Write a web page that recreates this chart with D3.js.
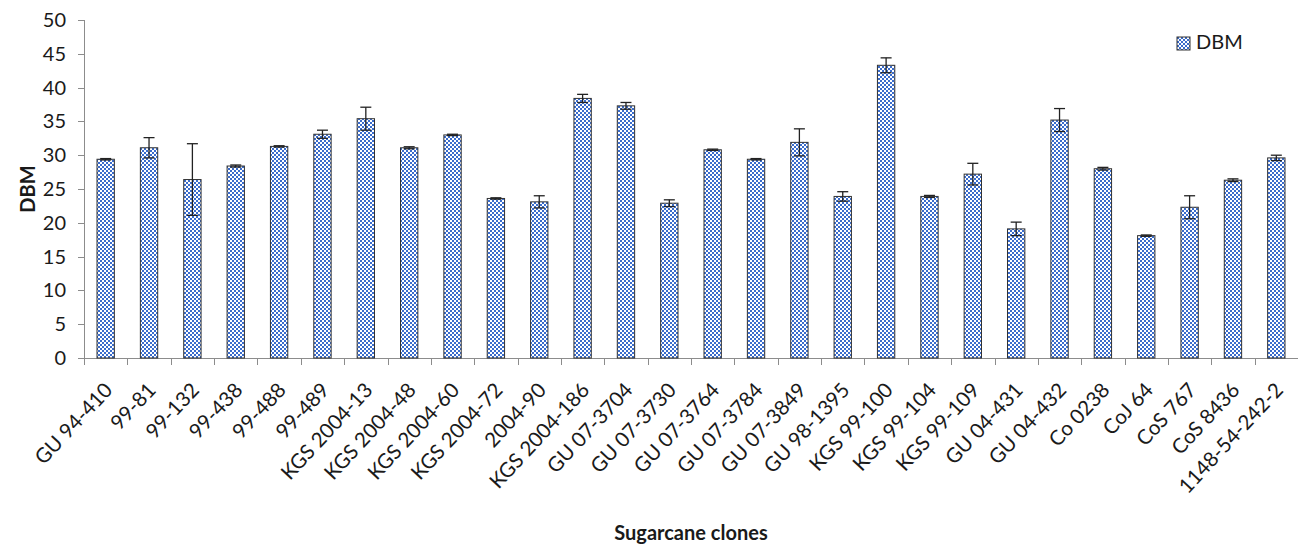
<!DOCTYPE html>
<html>
<head>
  <title>DBM of sugarcane clones</title>
  <script src="https://d3js.org/d3.v7.min.js"></script>
  <style>
    body { margin: 0; background: #fff; }
    text { font-family: Lato, "Open Sans", sans-serif; fill: #1a1a1a; }
    .axis path, .axis line { stroke: #8c8c8c; shape-rendering: crispEdges; }
  </style>
</head>
<body>
<svg width="1298" height="547"></svg>
<script>
  // clones, mean DBM and error
  const clones = ["GU 94-410", "99-81", "99-132", "99-438", "99-488", "99-489",
    "KGS 2004-13", "KGS 2004-48", "KGS 2004-60", "KGS 2004-72", "2004-90",
    "KGS 2004-186", "GU 07-3704", "GU 07-3730", "GU 07-3764", "GU 07-3784",
    "GU 07-3849", "GU 98-1395", "KGS 99-100", "KGS 99-104", "KGS 99-109",
    "GU 04-431", "GU 04-432", "Co 0238", "CoJ 64", "CoS 767", "CoS 8436",
    "1148-54-242-2"];
  const dbm = [29.4, 31.1, 26.4, 28.4, 31.3, 33.1, 35.4, 31.1, 33.0, 23.6, 23.1,
    38.4, 37.3, 22.9, 30.8, 29.4, 31.9, 23.9, 43.3, 23.9, 27.2, 19.1, 35.2,
    28.0, 18.1, 22.3, 26.3, 29.6];
  const err = [0.1, 1.5, 5.3, 0.15, 0.1, 0.6, 1.7, 0.15, 0.1, 0.1, 0.9,
    0.6, 0.5, 0.5, 0.1, 0.1, 2.0, 0.7, 1.1, 0.15, 1.6, 1.0, 1.7,
    0.2, 0.1, 1.7, 0.2, 0.4];
  const yTicks = [0, 5, 10, 15, 20, 25, 30, 35, 40, 45, 50];

  const data = clones.map((c, i) => ({clone: c, value: dbm[i], err: err[i]}));

  const margin = {top: 20, right: 0, bottom: 189, left: 84};
  const width = 1298 - margin.left - margin.right,
    height = 547 - margin.top - margin.bottom;

  const svg = d3.select("svg").append("g")
    .attr("transform", "translate(" + margin.left + "," + margin.top + ")");

  // checkerboard fill like the Excel pattern
  const pat = d3.select("svg").append("defs").append("pattern")
    .attr("id", "checker")
    .attr("patternUnits", "userSpaceOnUse")
    .attr("width", 4).attr("height", 4);
  pat.append("rect").attr("width", 4).attr("height", 4).attr("fill", "#ffffff");
  pat.append("rect").attr("width", 2).attr("height", 2).attr("fill", "#3a6ccc");
  pat.append("rect").attr("x", 2).attr("y", 2).attr("width", 2).attr("height", 2).attr("fill", "#3a6ccc");

  const x = d3.scaleBand()
    .domain(clones)
    .range([0, width])
    .paddingInner(0.6)
    .paddingOuter(0.3);

  const y = d3.scaleLinear()
    .domain([0, 50])
    .range([height, 0]);

  // Y axis
  const yAxis = svg.append("g")
    .attr("class", "axis")
    .call(d3.axisLeft(y).tickValues(yTicks).tickSize(6).tickPadding(12));
  yAxis.select(".domain").attr("d", "M0," + height + "V0");
  yAxis.selectAll("text").style("font-size", "20px");

  // X axis: ticks between the categories
  const xi = d3.scaleLinear().domain([0, clones.length]).range([0, width]);
  svg.append("g")
    .attr("class", "axis")
    .attr("transform", "translate(0," + height + ")")
    .call(d3.axisBottom(xi).tickValues(d3.range(clones.length + 1)).tickSize(7).tickSizeOuter(0).tickFormat(""));

  // X labels
  svg.append("g")
    .attr("transform", "translate(0," + height + ")")
    .call(d3.axisBottom(x).tickSize(0).tickPadding(0))
    .call(g => g.select(".domain").remove())
    .selectAll("text")
      .style("font-size", "20.5px")
      .attr("text-anchor", "end")
      .attr("dy", "0")
      .attr("transform", "translate(8,33) rotate(-47)");

  // bars
  svg.selectAll(".bar")
    .data(data)
    .join("rect")
      .attr("class", "bar")
      .attr("x", d => x(d.clone))
      .attr("y", d => y(d.value))
      .attr("width", x.bandwidth())
      .attr("height", d => height - y(d.value))
      .attr("fill", "url(#checker)")
      .attr("stroke", "#333")
      .attr("stroke-width", 1);

  // error bars
  const eb = svg.selectAll(".err")
    .data(data)
    .join("g")
      .attr("class", "err")
      .attr("stroke", "#222")
      .attr("stroke-width", 1.3);
  const cx = d => x(d.clone) + x.bandwidth() / 2;
  eb.append("line")
    .attr("x1", cx).attr("x2", cx)
    .attr("y1", d => y(d.value + d.err)).attr("y2", d => y(d.value - d.err));
  eb.append("line")
    .attr("x1", d => cx(d) - 5.5).attr("x2", d => cx(d) + 5.5)
    .attr("y1", d => y(d.value + d.err)).attr("y2", d => y(d.value + d.err));
  eb.append("line")
    .attr("x1", d => cx(d) - 5.5).attr("x2", d => cx(d) + 5.5)
    .attr("y1", d => y(d.value - d.err)).attr("y2", d => y(d.value - d.err));

  // axis titles
  svg.append("text")
    .attr("transform", "translate(-49," + (height / 2) + ") rotate(-90)")
    .attr("text-anchor", "middle")
    .style("font-size", "20px")
    .style("font-weight", "bold")
    .text("DBM");

  svg.append("text")
    .attr("x", width / 2)
    .attr("y", 520)
    .attr("text-anchor", "middle")
    .style("font-size", "20px")
    .style("font-weight", "bold")
    .text("Sugarcane clones");

  // legend
  const legend = svg.append("g").attr("transform", "translate(1093,17)");
  legend.append("rect")
    .attr("width", 13).attr("height", 13)
    .attr("fill", "url(#checker)")
    .attr("stroke", "#333");
  legend.append("text")
    .attr("x", 19).attr("y", 12)
    .style("font-size", "20px")
    .text("DBM");
</script>
</body>
</html>
